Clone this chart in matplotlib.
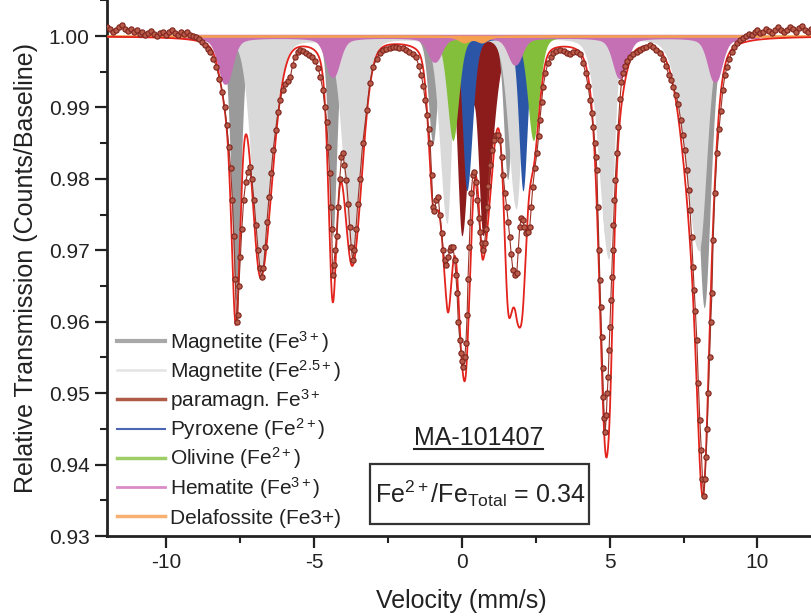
import numpy as np
import matplotlib
matplotlib.use("Agg")
import matplotlib.pyplot as plt
from matplotlib.lines import Line2D
from matplotlib.patches import Rectangle
from matplotlib.ticker import MultipleLocator, FormatStrFormatter

plt.rcParams['font.family'] = ['Liberation Sans', 'DejaVu Sans']
plt.rcParams['mathtext.fontset'] = 'custom'
plt.rcParams['mathtext.rm'] = 'Liberation Sans'
plt.rcParams['mathtext.it'] = 'Liberation Sans:italic'
plt.rcParams['mathtext.bf'] = 'Liberation Sans:bold'
plt.rcParams['axes.unicode_minus'] = False

vel_data = [
    -12.0, -11.9, -11.8, -11.7, -11.6, -11.5, -11.4, -11.3, -11.2, -11.1,
    -11.0, -10.9, -10.8, -10.7, -10.6, -10.5, -10.4, -10.3, -10.2, -10.1,
    -10.0, -9.9, -9.8, -9.7, -9.6, -9.5, -9.4, -9.3, -9.2, -9.1,
    -9.0, -8.9, -8.8, -8.7, -8.6, -8.5, -8.4, -8.3, -8.2, -8.1,
    -8.02, -7.95, -7.88, -7.82, -7.76, -7.71, -7.66, -7.62, -7.58, -7.54,
    -7.49, -7.44, -7.38, -7.31, -7.24, -7.17, -7.10, -7.03, -6.96, -6.89,
    -6.83, -6.77, -6.71, -6.65, -6.59, -6.52, -6.45, -6.38, -6.30, -6.22,
    -6.14, -6.06, -5.97, -5.88, -5.80, -5.72, -5.64, -5.55, -5.46, -5.36,
    -5.26, -5.16, -5.06, -4.96, -4.86, -4.78, -4.70, -4.63, -4.57, -4.52,
    -4.47, -4.43, -4.40, -4.37, -4.33, -4.28, -4.23, -4.18, -4.13, -4.07,
    -4.03, -3.97, -3.90, -3.84, -3.79, -3.74, -3.69, -3.64, -3.58, -3.52,
    -3.45, -3.35, -3.22, -3.11, -3.00, -2.88, -2.77, -2.65, -2.55, -2.44,
    -2.33, -2.22, -2.11, -2.00, -1.89, -1.78, -1.66, -1.55, -1.45, -1.37,
    -1.30, -1.24, -1.18, -1.12, -1.07, -1.02, -0.98, -0.93, -0.87, -0.80,
    -0.74, -0.68, -0.63, -0.58, -0.52, -0.46, -0.41, -0.35, -0.30, -0.24,
    -0.20, -0.16, -0.12, -0.07, -0.03, 0.01, 0.05, 0.10, 0.14, 0.18,
    0.21, 0.25, 0.28, 0.32, 0.37, 0.42, 0.47, 0.52, 0.57, 0.62,
    0.67, 0.72, 0.77, 0.82, 0.86, 0.90, 0.95, 1.01, 1.08, 1.15,
    1.22, 1.29, 1.35, 1.40, 1.46, 1.52, 1.57, 1.62, 1.67, 1.73,
    1.79, 1.86, 1.91, 1.96, 2.01, 2.06, 2.12, 2.18, 2.24, 2.30,
    2.35, 2.40, 2.47, 2.54, 2.60, 2.64, 2.70, 2.75, 2.83, 2.91,
    3.00, 3.08, 3.20, 3.32, 3.44, 3.55, 3.66, 3.77, 3.88, 4.00,
    4.10, 4.19, 4.27, 4.34, 4.39, 4.45, 4.50, 4.54, 4.57, 4.60,
    4.64, 4.67, 4.70, 4.73, 4.76, 4.79, 4.82, 4.85, 4.89, 4.92,
    4.95, 4.98, 5.01, 5.04, 5.07, 5.10, 5.13, 5.16, 5.19, 5.24,
    5.29, 5.35, 5.40, 5.45, 5.52, 5.60, 5.69, 5.80, 5.91, 6.02,
    6.13, 6.24, 6.36, 6.47, 6.58, 6.70, 6.80, 6.90, 7.00, 7.08,
    7.16, 7.24, 7.32, 7.40, 7.47, 7.54, 7.61, 7.67, 7.72, 7.77,
    7.82, 7.86, 7.90, 7.95, 8.00, 8.05, 8.10, 8.14, 8.18, 8.22,
    8.26, 8.30, 8.34, 8.38, 8.42, 8.46, 8.50, 8.56, 8.63, 8.70,
    8.76, 8.83, 8.90, 8.97, 9.05, 9.13, 9.22, 9.31, 9.40, 9.5,
    9.6, 9.7, 9.8, 9.9, 10.0, 10.1, 10.2, 10.3, 10.4, 10.5,
    10.6, 10.7, 10.8, 10.9, 11.0, 11.1, 11.2, 11.3, 11.4, 11.5,
    11.6, 11.7, 11.8, 11.9, 12.0,
]
trans_data = [
    1.0012, 1.0010, 1.0006, 1.0009, 1.0013, 1.0016, 1.0010, 1.0007, 1.0010, 1.0005,
    1.0008, 1.0003, 1.0006, 1.0001, 1.0004, 1.0007, 1.0003, 1.0000, 1.0004, 1.0006,
    1.0002, 1.0005, 1.0008, 1.0004, 1.0001, 1.0005, 1.0003, 1.0006, 1.0002, 1.0000,
    0.9998, 0.9996, 0.9991, 0.9987, 0.9982, 0.9978, 0.9968, 0.9957, 0.9940, 0.9922,
    0.9900, 0.9875, 0.9845, 0.9815, 0.9770, 0.9720, 0.9660, 0.9600, 0.9610, 0.9650,
    0.9690, 0.9730, 0.9770, 0.9795, 0.9810, 0.9817, 0.9800, 0.9770, 0.9735, 0.9700,
    0.9675, 0.9663, 0.9675, 0.9705, 0.9740, 0.9775, 0.9808, 0.9840, 0.9868, 0.9893,
    0.9910, 0.9925, 0.9933, 0.9937, 0.9942, 0.9960, 0.9970, 0.9977, 0.9980, 0.9979,
    0.9976, 0.9974, 0.9970, 0.9965, 0.9955, 0.9942, 0.9925, 0.9900, 0.9880, 0.9845,
    0.9808, 0.9760, 0.9730, 0.9665, 0.9680, 0.9700, 0.9720, 0.9760, 0.9800, 0.9830,
    0.9836, 0.9820, 0.9798, 0.9765, 0.9733, 0.9705, 0.9686, 0.9700, 0.9730, 0.9765,
    0.9800, 0.9850, 0.9896, 0.9934, 0.9957, 0.9968, 0.9976, 0.9980, 0.9982, 0.9983,
    0.9985, 0.9984, 0.9983, 0.9983, 0.9981, 0.9978, 0.9975, 0.9970, 0.9958, 0.9945,
    0.9930, 0.9910, 0.9890, 0.9870, 0.9850, 0.9805, 0.9760, 0.9755, 0.9770, 0.9775,
    0.9750, 0.9724, 0.9700, 0.9686, 0.9680, 0.9690, 0.9700, 0.9705, 0.9705, 0.9686,
    0.9665, 0.9640, 0.9600, 0.9575, 0.9556, 0.9545, 0.9537, 0.9550, 0.9570, 0.9610,
    0.9660, 0.9705, 0.9740, 0.9780, 0.9805, 0.9810, 0.9795, 0.9770, 0.9745, 0.9725,
    0.9710, 0.9700, 0.9710, 0.9730, 0.9760, 0.9790, 0.9820, 0.9840, 0.9855, 0.9862,
    0.9862, 0.9854, 0.9830, 0.9805, 0.9780, 0.9760, 0.9740, 0.9719, 0.9695, 0.9672,
    0.9665, 0.9668, 0.9700, 0.9733, 0.9745, 0.9742, 0.9732, 0.9724, 0.9726, 0.9733,
    0.9760, 0.9789, 0.9815, 0.9836, 0.9860, 0.9882, 0.9908, 0.9929, 0.9948, 0.9962,
    0.9970, 0.9976, 0.9979, 0.9980, 0.9979, 0.9976, 0.9975, 0.9977, 0.9978, 0.9975,
    0.9962, 0.9948, 0.9930, 0.9910, 0.9892, 0.9872, 0.9850, 0.9830, 0.9812, 0.9760,
    0.9700, 0.9658, 0.9620, 0.9579, 0.9535, 0.9495, 0.9465, 0.9445, 0.9470, 0.9500,
    0.9523, 0.9560, 0.9593, 0.9630, 0.9663, 0.9700, 0.9735, 0.9770, 0.9798, 0.9836,
    0.9873, 0.9912, 0.9935, 0.9948, 0.9958, 0.9965, 0.9970, 0.9975, 0.9978, 0.9980,
    0.9983, 0.9985, 0.9987, 0.9985, 0.9980, 0.9976, 0.9968, 0.9958, 0.9946, 0.9938,
    0.9928, 0.9918, 0.9905, 0.9883, 0.9862, 0.9840, 0.9812, 0.9785, 0.9756, 0.9718,
    0.9677, 0.9645, 0.9615, 0.9574, 0.9514, 0.9462, 0.9420, 0.9380, 0.9356, 0.9380,
    0.9410, 0.9450, 0.9500, 0.9550, 0.9600, 0.9640, 0.9714, 0.9780, 0.9836, 0.9870,
    0.9895, 0.9925, 0.9945, 0.9957, 0.9968, 0.9978, 0.9985, 0.9990, 0.9994, 0.9997,
    1.0000, 1.0003, 1.0001, 1.0005, 1.0008, 1.0004, 1.0006, 1.0010, 1.0007, 1.0004,
    1.0009, 1.0012, 1.0008, 1.0005, 1.0009, 1.0013, 1.0010, 1.0006, 1.0011, 1.0014,
    1.0009, 1.0006, 1.0010, 1.0007, 1.0011,
]

# ---------------- fitted sub-spectra: line centre, depth, half widths ----------------
# Magnetite Fe3+ (tetrahedral) sextet
mag3_pos   = [-7.64, -4.37, -0.98, 1.55, 4.86, 8.20]
mag3_depth = [0.037, 0.028, 0.015, 0.020, 0.028, 0.038]
mag3_wl    = [0.18, 0.16, 0.18, 0.16, 0.22, 0.25]
mag3_wr    = [0.18, 0.16, 0.18, 0.16, 0.22, 0.25]
# Magnetite Fe2.5+ (octahedral) sextet
mag25_pos   = [-6.80, -3.70, -0.50, 1.84, 4.97, 8.02]
mag25_depth = [0.033, 0.031, 0.026, 0.024, 0.031, 0.030]
mag25_wl    = [0.35, 0.35, 0.28, 0.30, 0.38, 0.55]
mag25_wr    = [0.45, 0.38, 0.17, 0.20, 0.20, 0.30]
# paramagnetic Fe3+ doublet
para_pos   = [0.00, 0.72]
para_depth = [0.0275, 0.027]
para_wl    = [0.18, 0.18]
para_wr    = [0.25, 0.35]
# pyroxene Fe2+ doublet
pyx_pos   = [0.17, 2.07]
pyx_depth = [0.0216, 0.0216]
pyx_wl    = [0.17, 0.17]
pyx_wr    = [0.22, 0.17]
# olivine Fe2+ doublet
oli_pos   = [-0.30, 2.42]
oli_depth = [0.0146, 0.0146]
oli_w     = [0.23, 0.23]
# hematite sextet
hem_pos   = [-8.00, -4.37, -0.92, 1.80, 5.35, 8.56]
hem_depth = [0.0065, 0.0055, 0.0034, 0.0038, 0.0057, 0.0062]
hem_w     = [0.25, 0.25, 0.25, 0.25, 0.25, 0.25]
# delafossite doublet
dela_pos   = [0.08, 0.68]
dela_depth = [0.0008, 0.0008]
dela_w     = [0.22, 0.22]


def absorption(v, pos, depth, wl, wr, eta):
    """sum of split pseudo-Voigt lines (absorption depth)"""
    out = np.zeros_like(v)
    for c, d, a, b in zip(pos, depth, wl, wr):
        x = v - c
        w = np.where(x < 0, a, b)
        x = x / w
        out += d * (eta / (1 + x**2) + (1 - eta) * np.exp(-np.log(2) * x**2))
    return out


v = np.linspace(-12, 12, 4801)
a_mag3 = absorption(v, mag3_pos, mag3_depth, mag3_wl, mag3_wr, 0.3)
a_mag25 = absorption(v, mag25_pos, mag25_depth, mag25_wl, mag25_wr, 0.2)
a_para = absorption(v, para_pos, para_depth, para_wl, para_wr, 0.3)
a_pyx = absorption(v, pyx_pos, pyx_depth, pyx_wl, pyx_wr, 0.3)
a_oli = absorption(v, oli_pos, oli_depth, oli_w, oli_w, 0.3)
a_hem = absorption(v, hem_pos, hem_depth, hem_w, hem_w, 0.5)
a_dela = absorption(v, dela_pos, dela_depth, dela_w, dela_w, 0.5)
total = 1 - (a_mag3 + a_mag25 + a_para + a_pyx + a_oli + a_hem + a_dela)

C_MAG3 = "#9a9a9a"
C_MAG25 = "#d9d9d9"
C_PARA = "#8c1c1c"
C_PYX = "#2b56a8"
C_OLI = "#84bf3c"
C_HEM = "#c56fb5"
C_DELA = "#f5a050"
C_FIT = "#e3231c"
TXT = "#222222"

# ---------------- figure ----------------
fig = plt.figure(figsize=(8.11, 6.16), dpi=100)
ax = fig.add_axes([107 / 811, 80 / 616, (816.6 - 107) / 811, 536 / 616])
ax.set_xlim(-12, 12)
ax.set_ylim(0.93, 1.00504)

ax.fill_between(v, 1, 1 - a_para, color=C_PARA, lw=0, zorder=1)
ax.fill_between(v, 1, 1 - a_mag3, color=C_MAG3, lw=0, zorder=2)
ax.fill_between(v, 1, 1 - a_mag25, color=C_MAG25, lw=0, zorder=3)
ax.fill_between(v, 1, 1 - a_pyx, color=C_PYX, lw=0, zorder=4)
ax.fill_between(v, 1, 1 - a_oli, color=C_OLI, lw=0, zorder=5)
ax.fill_between(v, 1, 1 - a_hem, where=a_hem > 1e-4, color=C_HEM,
                ec=C_HEM, lw=2.5, zorder=6)
ax.fill_between(v, 1, 1 - a_dela, color=C_DELA, ec=C_DELA, lw=1.3, zorder=7)

ax.plot(v, total, color=C_FIT, lw=1.3, zorder=8)
ax.plot(vel_data, trans_data, "-o", color="#9b3327", lw=0.8, ms=3.8,
        mfc="#b85a4a", mec="#7e241c", mew=0.8, zorder=9)

# axes styling
for s in ("top", "right"):
    ax.spines[s].set_visible(False)
for s in ("left", "bottom"):
    ax.spines[s].set_linewidth(2)
    ax.spines[s].set_color(TXT)
ax.xaxis.set_major_locator(MultipleLocator(5))
ax.xaxis.set_minor_locator(MultipleLocator(2.5))
ax.yaxis.set_major_locator(MultipleLocator(0.01))
ax.yaxis.set_minor_locator(MultipleLocator(0.005))
ax.yaxis.set_major_formatter(FormatStrFormatter("%.2f"))
ax.tick_params(which="major", direction="out", length=8.5, width=1.6,
               labelsize=15, colors=TXT, pad=4)
ax.tick_params(which="minor", direction="out", length=5, width=1.5, colors=TXT)

ax.set_xlabel("Velocity (mm/s)", fontsize=18, color=TXT)
ax.set_ylabel("Relative Transmission (Counts/Baseline)", fontsize=18, color=TXT)
ax.xaxis.set_label_coords(0.5, -0.098)
ax.yaxis.set_label_coords(-0.097, 0.5)

# legend, drawn as handle + label rows
leg_labels = ["Magnetite (Fe$^{3+}$)", "Magnetite (Fe$^{2.5+}$)",
              "paramagn. Fe$^{3+}$", "Pyroxene (Fe$^{2+}$)",
              "Olivine (Fe$^{2+}$)", "Hematite (Fe$^{3+}$)",
              "Delafossite (Fe3+)"]
leg_colors = ["#a8a8a8", "#e4e4e4", "#b05a48", "#4a66b4",
              "#9fce66", "#d98cc8", "#f8b070"]
leg_lw = [3.0, 1.8, 2.5, 1.5, 2.5, 2.0, 2.5]
row0, drow = (536 - 341) / 536, 29.17 / 536
for i, (lab, col, lw) in enumerate(zip(leg_labels, leg_colors, leg_lw)):
    y = row0 - i * drow
    ax.add_line(Line2D([0.0141, 0.0817], [y, y], transform=ax.transAxes,
                       color=col, lw=lw, zorder=10))
    ax.text(0.0888, y - 7.5 / 536, lab, transform=ax.transAxes, fontsize=15,
            color=TXT, va="baseline", ha="left", zorder=10)

# sample name (underlined) and ratio box
name = ax.text(0.56, 0.9437, "MA-101407", fontsize=18, color=TXT,
               ha="center", va="center", zorder=10)
ax.add_patch(Rectangle((-3.11, 0.93168), 7.41, 0.0084, fill=False,
                       ec="#333333", lw=1.6, zorder=10))
ax.text(0.61, 0.9359, r"Fe$^{2+}$/Fe$_{\mathrm{Total}}$ = 0.34", fontsize=18,
        color=TXT, ha="center", va="center", zorder=10)

fig.canvas.draw()
bb = name.get_window_extent(fig.canvas.get_renderer())
inv = fig.transFigure.inverted()
(x0, y0), (x1, _) = inv.transform([[bb.x0, bb.y0], [bb.x1, bb.y0]])
fig.add_artist(Line2D([x0, x1], [y0 + 1 / 616, y0 + 1 / 616],
                      transform=fig.transFigure, color=TXT, lw=1.5))

fig.savefig("out.png", dpi=100)
